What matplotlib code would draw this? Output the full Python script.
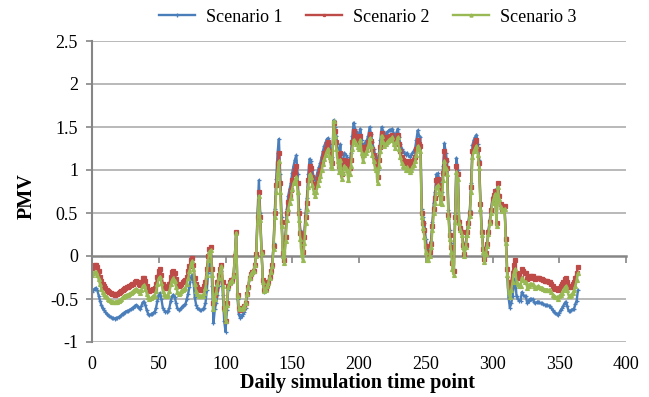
import matplotlib
matplotlib.use("Agg")
import matplotlib.pyplot as plt
import numpy as np

days = list(range(365))

scenario1 = [
-0.42,-0.40,-0.38,-0.37,-0.40,-0.46,-0.52,-0.57,-0.61,-0.63,
-0.65,-0.67,-0.69,-0.70,-0.71,-0.72,-0.72,-0.73,-0.72,-0.72,
-0.71,-0.70,-0.69,-0.67,-0.66,-0.65,-0.64,-0.64,-0.63,-0.62,
-0.61,-0.60,-0.58,-0.57,-0.58,-0.60,-0.62,-0.58,-0.54,-0.53,
-0.57,-0.63,-0.67,-0.69,-0.68,-0.67,-0.66,-0.65,-0.60,-0.52,
-0.45,-0.43,-0.50,-0.60,-0.63,-0.65,-0.65,-0.64,-0.60,-0.52,
-0.47,-0.45,-0.48,-0.55,-0.61,-0.63,-0.62,-0.60,-0.58,-0.57,
-0.56,-0.50,-0.44,-0.36,-0.26,-0.22,-0.30,-0.48,-0.57,-0.60,
-0.62,-0.63,-0.63,-0.62,-0.60,-0.55,-0.40,-0.20,-0.05,0.00,
-0.35,-0.78,-0.62,-0.55,-0.45,-0.35,-0.25,-0.18,-0.45,-0.75,
-0.88,-0.63,-0.40,-0.32,-0.30,-0.30,-0.25,0.00,0.28,-0.50,
-0.68,-0.72,-0.70,-0.68,-0.65,-0.60,-0.47,-0.38,-0.26,-0.22,
-0.20,-0.18,-0.10,0.03,0.50,0.88,0.50,0.05,-0.30,-0.42,
-0.40,-0.36,-0.32,-0.25,-0.18,-0.10,0.15,0.55,0.90,1.20,
1.36,0.95,0.45,0.05,-0.05,0.25,0.55,0.70,0.78,0.85,
0.97,1.05,1.12,1.17,0.95,0.55,0.30,0.12,0.07,0.25,
0.50,0.68,0.95,1.13,1.10,1.00,0.92,0.88,0.92,0.98,
1.03,1.08,1.15,1.22,1.28,1.32,1.36,1.37,1.30,1.20,
1.15,1.58,1.50,1.40,1.25,1.12,1.30,1.00,1.10,1.20,
1.18,1.15,1.08,1.10,1.20,1.40,1.55,1.48,1.45,1.42,
1.40,1.48,1.35,1.25,1.30,1.33,1.35,1.40,1.50,1.42,
1.32,1.25,1.18,1.15,1.00,1.20,1.35,1.50,1.45,1.40,
1.42,1.44,1.45,1.47,1.46,1.48,1.42,1.38,1.43,1.48,
1.38,1.30,1.25,1.22,1.20,1.18,1.20,1.17,1.15,1.17,
1.20,1.22,1.25,1.35,1.46,1.40,1.38,0.55,0.45,0.38,
0.20,0.10,0.05,0.10,0.18,0.40,0.62,0.75,0.95,0.96,
0.90,0.80,0.75,1.05,1.31,1.20,1.10,0.53,0.30,0.15,
-0.05,-0.15,0.50,1.14,1.00,0.42,0.35,0.30,0.15,0.03,
0.15,0.30,0.40,0.53,0.85,1.29,1.35,1.38,1.41,1.30,
1.12,0.62,0.30,0.10,-0.03,0.05,0.15,0.30,0.42,0.55,
0.68,0.72,0.77,0.38,0.85,0.70,0.60,0.55,0.57,0.58,
0.22,-0.24,-0.48,-0.60,-0.55,-0.47,-0.35,-0.26,-0.47,-0.50,
-0.52,-0.52,-0.42,-0.45,-0.47,-0.47,-0.55,-0.52,-0.50,-0.50,
-0.50,-0.53,-0.55,-0.54,-0.53,-0.54,-0.55,-0.55,-0.56,-0.57,
-0.57,-0.57,-0.58,-0.58,-0.60,-0.63,-0.65,-0.66,-0.67,-0.69,
-0.66,-0.63,-0.61,-0.58,-0.55,-0.53,-0.58,-0.64,-0.64,-0.63,
-0.62,-0.62,-0.56,-0.52,-0.40]

scenario2 = [
-0.14,-0.12,-0.10,-0.10,-0.13,-0.18,-0.24,-0.29,-0.33,-0.35,
-0.37,-0.39,-0.41,-0.42,-0.43,-0.44,-0.44,-0.45,-0.44,-0.44,
-0.43,-0.42,-0.41,-0.39,-0.38,-0.37,-0.36,-0.36,-0.35,-0.34,
-0.33,-0.32,-0.30,-0.29,-0.30,-0.32,-0.34,-0.30,-0.26,-0.25,
-0.29,-0.35,-0.39,-0.41,-0.40,-0.39,-0.38,-0.37,-0.32,-0.24,
-0.17,-0.15,-0.22,-0.32,-0.35,-0.37,-0.37,-0.36,-0.32,-0.24,
-0.19,-0.17,-0.20,-0.27,-0.33,-0.35,-0.34,-0.32,-0.30,-0.29,
-0.28,-0.24,-0.18,-0.12,-0.05,-0.02,-0.10,-0.26,-0.33,-0.36,
-0.38,-0.39,-0.39,-0.38,-0.35,-0.30,-0.15,0.00,0.08,0.10,
-0.15,-0.55,-0.45,-0.38,-0.30,-0.22,-0.15,-0.10,-0.30,-0.60,
-0.75,-0.55,-0.35,-0.30,-0.28,-0.28,-0.22,0.00,0.28,-0.45,
-0.60,-0.63,-0.62,-0.60,-0.58,-0.55,-0.44,-0.36,-0.25,-0.21,
-0.19,-0.17,-0.10,0.02,0.45,0.75,0.45,0.05,-0.28,-0.40,
-0.38,-0.34,-0.30,-0.24,-0.17,-0.10,0.12,0.50,0.82,1.08,
1.20,0.85,0.40,0.03,-0.05,0.22,0.50,0.63,0.70,0.77,
0.88,0.95,1.00,1.05,0.85,0.50,0.27,0.10,0.05,0.22,
0.45,0.62,0.88,1.05,1.02,0.92,0.84,0.80,0.84,0.90,
0.95,1.00,1.07,1.14,1.20,1.25,1.30,1.32,1.22,1.12,
1.08,1.55,1.45,1.32,1.17,1.05,1.20,0.95,1.03,1.12,
1.10,1.08,1.00,1.02,1.12,1.32,1.45,1.40,1.37,1.34,
1.32,1.40,1.27,1.17,1.22,1.25,1.28,1.33,1.42,1.34,
1.24,1.17,1.10,1.08,0.92,1.12,1.27,1.43,1.38,1.33,
1.35,1.37,1.38,1.40,1.39,1.41,1.35,1.31,1.36,1.41,
1.30,1.22,1.15,1.12,1.10,1.08,1.10,1.07,1.05,1.07,
1.10,1.12,1.15,1.25,1.35,1.30,1.28,0.50,0.38,0.30,
0.12,0.03,0.00,0.05,0.14,0.35,0.55,0.68,0.88,0.90,
0.83,0.72,0.68,0.97,1.22,1.12,1.02,0.48,0.25,0.10,
-0.08,-0.18,0.45,1.05,0.95,0.40,0.33,0.28,0.13,0.02,
0.13,0.28,0.38,0.50,0.80,1.22,1.28,1.31,1.35,1.25,
1.08,0.60,0.28,0.08,-0.04,0.04,0.14,0.28,0.40,0.53,
0.66,0.71,0.76,0.38,0.85,0.70,0.60,0.55,0.57,0.58,
0.20,-0.15,-0.35,-0.38,-0.30,-0.20,-0.10,-0.05,-0.20,-0.23,
-0.25,-0.25,-0.15,-0.18,-0.20,-0.20,-0.27,-0.25,-0.23,-0.23,
-0.23,-0.25,-0.27,-0.26,-0.25,-0.26,-0.27,-0.27,-0.28,-0.29,
-0.29,-0.29,-0.30,-0.30,-0.32,-0.35,-0.37,-0.38,-0.38,-0.40,
-0.37,-0.35,-0.33,-0.30,-0.27,-0.25,-0.30,-0.36,-0.36,-0.35,
-0.33,-0.30,-0.25,-0.20,-0.13]

scenario3 = [
-0.22,-0.20,-0.19,-0.19,-0.22,-0.27,-0.33,-0.38,-0.42,-0.44,
-0.46,-0.48,-0.50,-0.51,-0.52,-0.53,-0.53,-0.54,-0.53,-0.53,
-0.52,-0.51,-0.50,-0.48,-0.47,-0.46,-0.45,-0.45,-0.44,-0.43,
-0.42,-0.41,-0.39,-0.38,-0.39,-0.41,-0.43,-0.39,-0.35,-0.34,
-0.38,-0.44,-0.48,-0.50,-0.49,-0.48,-0.47,-0.46,-0.41,-0.33,
-0.26,-0.24,-0.31,-0.41,-0.44,-0.46,-0.46,-0.45,-0.41,-0.33,
-0.28,-0.26,-0.29,-0.36,-0.42,-0.44,-0.43,-0.41,-0.39,-0.38,
-0.37,-0.32,-0.26,-0.18,-0.10,-0.06,-0.15,-0.33,-0.41,-0.44,
-0.46,-0.47,-0.47,-0.46,-0.43,-0.37,-0.22,-0.05,0.05,0.07,
-0.22,-0.62,-0.50,-0.42,-0.33,-0.25,-0.17,-0.12,-0.35,-0.62,
-0.75,-0.57,-0.36,-0.31,-0.29,-0.29,-0.23,0.00,0.27,-0.47,
-0.60,-0.62,-0.62,-0.60,-0.58,-0.55,-0.44,-0.36,-0.25,-0.21,
-0.19,-0.17,-0.11,0.00,0.40,0.70,0.42,0.03,-0.30,-0.41,
-0.39,-0.35,-0.31,-0.25,-0.19,-0.12,0.08,0.45,0.75,0.98,
1.10,0.75,0.35,0.00,-0.08,0.18,0.42,0.55,0.62,0.68,
0.78,0.85,0.88,0.92,0.75,0.42,0.20,0.02,-0.05,0.15,
0.38,0.55,0.80,0.95,0.92,0.82,0.75,0.70,0.75,0.82,
0.88,0.93,1.00,1.07,1.13,1.18,1.22,1.25,1.15,1.05,
1.02,1.57,1.40,1.25,1.10,0.98,1.12,0.90,0.96,1.05,
1.02,1.00,0.88,0.95,1.05,1.25,1.35,1.33,1.30,1.27,
1.25,1.35,1.20,1.10,1.17,1.20,1.23,1.28,1.37,1.28,
1.18,1.10,1.02,1.00,0.85,1.05,1.22,1.40,1.33,1.28,
1.30,1.32,1.34,1.36,1.35,1.38,1.30,1.26,1.32,1.38,
1.25,1.15,1.08,1.05,1.03,1.00,1.03,1.00,0.98,1.00,
1.03,1.06,1.10,1.18,1.28,1.25,1.22,0.45,0.32,0.22,
0.05,-0.05,-0.05,0.00,0.10,0.30,0.50,0.62,0.80,0.82,
0.75,0.62,0.60,0.88,1.10,1.02,0.95,0.45,0.20,0.05,
-0.15,-0.22,0.40,0.98,0.90,0.38,0.30,0.25,0.10,0.00,
0.10,0.25,0.35,0.47,0.75,1.15,1.22,1.25,1.28,1.18,
1.02,0.55,0.25,0.05,-0.07,0.02,0.12,0.26,0.38,0.50,
0.62,0.67,0.72,0.35,0.80,0.66,0.57,0.52,0.54,0.55,
0.15,-0.22,-0.42,-0.48,-0.40,-0.30,-0.20,-0.15,-0.30,-0.33,
-0.35,-0.35,-0.25,-0.28,-0.30,-0.30,-0.37,-0.35,-0.33,-0.33,
-0.33,-0.35,-0.37,-0.36,-0.35,-0.36,-0.37,-0.37,-0.38,-0.39,
-0.39,-0.39,-0.40,-0.40,-0.42,-0.45,-0.47,-0.48,-0.48,-0.50,
-0.47,-0.45,-0.43,-0.40,-0.37,-0.35,-0.40,-0.46,-0.46,-0.45,
-0.43,-0.40,-0.35,-0.28,-0.20]

series_names = ["Scenario 1", "Scenario 2", "Scenario 3"]
x_ticks = [0, 50, 100, 150, 200, 250, 300, 350, 400]
y_ticks = [-1, -0.5, 0, 0.5, 1, 1.5, 2, 2.5]
y_tick_labels = ["-1", "-0.5", "0", "0.5", "1", "1.5", "2", "2.5"]

plt.rcParams['font.family'] = ['Liberation Serif', 'DejaVu Serif']
FS = 13
LFS = 14.5

fig = plt.figure(figsize=(6.49, 3.97), dpi=100)
ax = fig.add_axes([92/649, 1-342/397, (626-92)/649, (342-41)/397])

colors = ["#4a7ebb", "#be4b48", "#98b954"]
markers = ["+", "s", "^"]
msizes = [3.5, 2.6, 2.8]
for vals, name, c, m, ms in zip([scenario1, scenario2, scenario3], series_names, colors, markers, msizes):
    ax.plot(days, vals, color=c, lw=1.7, marker=m, ms=ms, mew=0.9, mfc=c, mec=c, label=name)

ax.set_xlim(0, 400)
ax.set_ylim(-1, 2.5)
ax.set_yticks(y_ticks)
ax.set_yticklabels(y_tick_labels, fontsize=FS)
ax.set_xticks(x_ticks)
ax.tick_params(axis='y', length=4, width=1.2, color='#868686', pad=6)
ax.tick_params(axis='x', direction='out', length=5, width=1.2, color='#868686', labelbottom=False)

for yv in y_ticks:
    if yv != 0:
        ax.axhline(yv, color='#b3b3b3', lw=1.3, zorder=0)

for s in ['top', 'right']:
    ax.spines[s].set_visible(False)
ax.spines['left'].set_color('#868686')
ax.spines['left'].set_linewidth(1.5)
ax.spines['bottom'].set_position(('data', 0))
ax.spines['bottom'].set_color('#868686')
ax.spines['bottom'].set_linewidth(1.8)
ax.spines['bottom'].set_zorder(1)

for xv in x_ticks:
    ax.text(xv, -0.045, str(xv), transform=ax.get_xaxis_transform(),
            ha='center', va='top', fontsize=FS)

fig.text(358/649, 1-383/397, "Daily simulation time point",
         ha='center', va='center', fontsize=LFS, fontweight='bold')
fig.text(27/649, 1-196/397, "PMV", rotation=90, ha='center', va='center',
         fontsize=LFS, fontweight='bold')

leg = fig.legend(loc='center', bbox_to_anchor=(368/649, 1-17/397), ncol=3,
                 frameon=False, fontsize=FS, handlelength=2.0, columnspacing=1.3,
                 handletextpad=0.6, markerscale=0.8)

fig.savefig("out.png", dpi=100)
